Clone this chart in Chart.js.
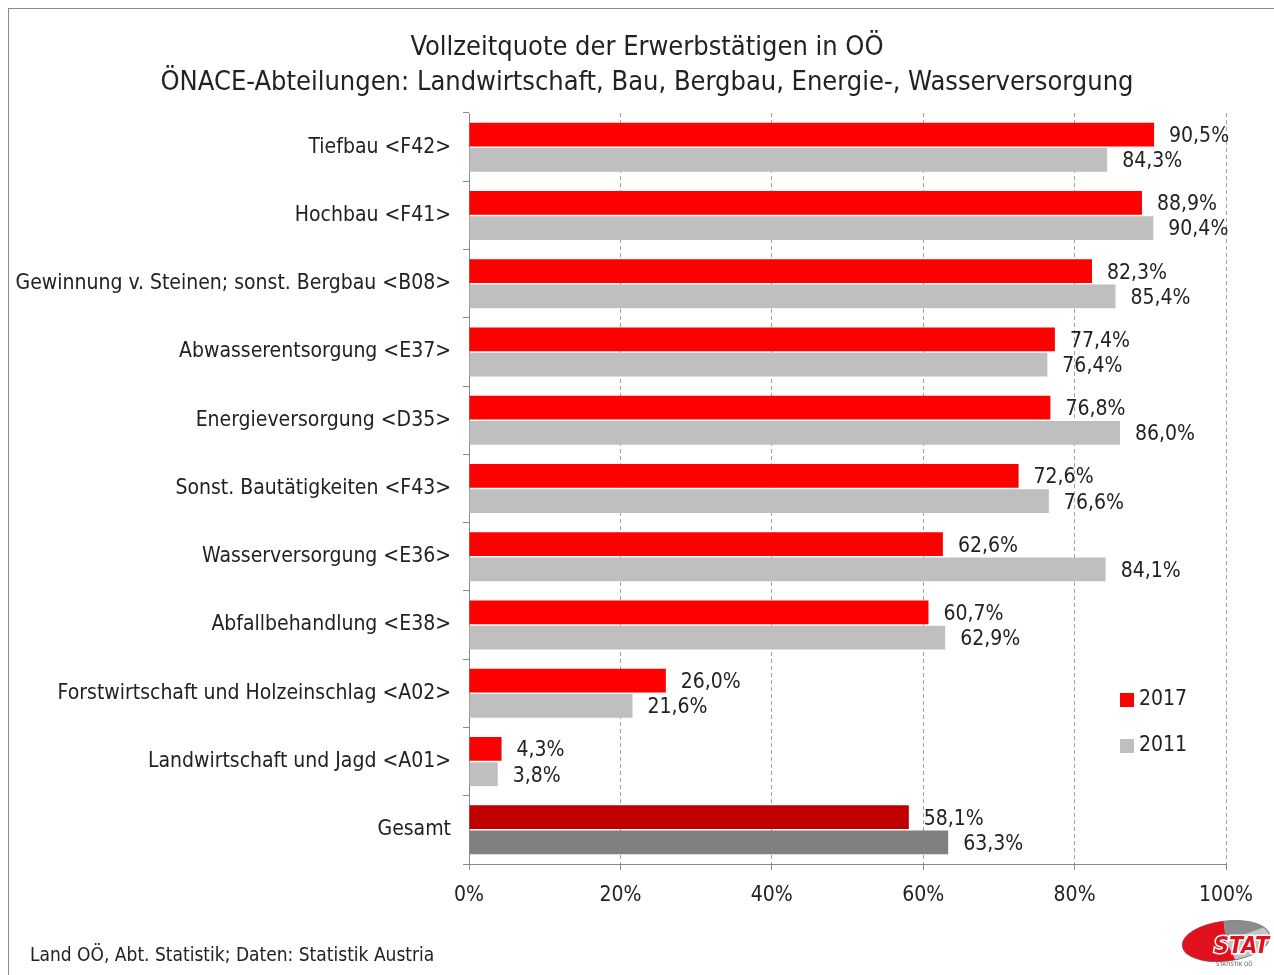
<!DOCTYPE html>
<html>
<head>
<meta charset="utf-8">
<script src="https://cdn.jsdelivr.net/npm/chart.js@4.4.1/dist/chart.umd.min.js"></script>
<style>
  body { margin: 0; background: #fff; overflow: hidden; }
  #wrap { position: relative; width: 1274px; height: 975px; }
  #rahmen { position: absolute; left: 8px; top: 8px; width: 1400px; height: 1200px; border: 1px solid #8a8a8a; }
  .txt { position: absolute; font-family: "Liberation Sans Narrow", "DejaVu Sans Condensed", sans-serif; color: #222; white-space: nowrap; }
  #titel { left: 147px; width: 1000px; top: 28px; text-align: center; font-size: 27px; line-height: 35px; }
  #quelle { left: 30px; top: 943px; font-size: 19px; }
  canvas { position: absolute; left: 0; top: 0; }
</style>
</head>
<body>
<div id="wrap">
  <div id="rahmen"></div>
  <canvas id="quoteChart" width="1274" height="975"></canvas>
  <div id="titel" class="txt">Vollzeitquote der Erwerbstätigen in OÖ<br>ÖNACE-Abteilungen: Landwirtschaft, Bau, Bergbau, Energie-, Wasserversorgung</div>
  <div id="quelle" class="txt">Land OÖ, Abt. Statistik; Daten: Statistik Austria</div>
</div>
<script>
// Daten
const kategorien = [
  "Tiefbau <F42>",
  "Hochbau <F41>",
  "Gewinnung v. Steinen; sonst. Bergbau <B08>",
  "Abwasserentsorgung <E37>",
  "Energieversorgung <D35>",
  "Sonst. Bautätigkeiten <F43>",
  "Wasserversorgung <E36>",
  "Abfallbehandlung <E38>",
  "Forstwirtschaft und Holzeinschlag <A02>",
  "Landwirtschaft und Jagd <A01>",
  "Gesamt"
];
const werte2017 = [90.5, 88.9, 82.3, 77.4, 76.8, 72.6, 62.6, 60.7, 26.0, 4.3, 58.1];
const werte2011 = [84.3, 90.4, 85.4, 76.4, 86.0, 76.6, 84.1, 62.9, 21.6, 3.8, 63.3];
const xTicks = [0, 20, 40, 60, 80, 100];

const schrift = '"Liberation Sans Narrow", "DejaVu Sans Condensed", sans-serif';

// Farben: letzte Kategorie (Gesamt) dunkler
const farben2017 = kategorien.map((k, i) => i === kategorien.length - 1 ? "#c00000" : "#ff0000");
const farben2011 = kategorien.map((k, i) => i === kategorien.length - 1 ? "#808080" : "#bfbfbf");

function formatProzent(v) {
  return v.toFixed(1).replace(".", ",") + "%";
}

// Werte rechts neben den Balken
const wertePlugin = {
  id: "werte",
  afterDatasetsDraw(chart) {
    const ctx = chart.ctx;
    ctx.save();
    ctx.font = "21px " + schrift;
    ctx.fillStyle = "#222";
    ctx.textAlign = "left";
    ctx.textBaseline = "middle";
    chart.data.datasets.forEach((ds, di) => {
      chart.getDatasetMeta(di).data.forEach((bar, i) => {
        ctx.fillText(formatProzent(ds.data[i]), bar.x + 15, bar.y + 2);
      });
    });
    ctx.restore();
  }
};

// Legende im Diagramm + Logo
const legendePlugin = {
  id: "legende",
  afterDraw(chart) {
    const ctx = chart.ctx;
    ctx.save();
    ctx.font = "21px " + schrift;
    ctx.textBaseline = "middle";
    const eintraege = [["2017", "#ff0000", 700], ["2011", "#bfbfbf", 746]];
    eintraege.forEach(e => {
      ctx.fillStyle = e[1];
      ctx.fillRect(1120, e[2] - 7, 14, 14);
      ctx.fillStyle = "#222";
      ctx.fillText(e[0], 1139, e[2]);
    });

    // Logo STAT
    const cx = 1226, cy = 941;
    ctx.save();
    ctx.translate(cx, cy);
    ctx.rotate(-0.12);
    ctx.beginPath();
    ctx.ellipse(0, 0, 44, 20, 0, 0, Math.PI * 2);
    ctx.fillStyle = "#c4c4c4";
    ctx.fill();
    ctx.lineWidth = 1;
    ctx.strokeStyle = "#777";
    ctx.stroke();
    ctx.beginPath();
    ctx.moveTo(0, 0);
    ctx.ellipse(0, 0, 44, 20, 0, Math.PI * 0.45, Math.PI * 1.5);
    ctx.closePath();
    ctx.fillStyle = "#e0101c";
    ctx.fill();
    ctx.beginPath();
    ctx.moveTo(0, 0);
    ctx.ellipse(0, 0, 44, 20, 0, Math.PI * 1.5, Math.PI * 1.85);
    ctx.closePath();
    ctx.fillStyle = "#8c8c8c";
    ctx.fill();
    ctx.restore();
    ctx.font = "italic bold 23px " + schrift;
    ctx.textAlign = "left";
    ctx.textBaseline = "alphabetic";
    ctx.lineWidth = 3;
    ctx.strokeStyle = "#fff";
    ctx.strokeText("STAT", 1214, 953);
    ctx.fillStyle = "#e0101c";
    ctx.fillText("STAT", 1214, 953);
    ctx.font = "6px " + schrift;
    ctx.fillStyle = "#555";
    ctx.fillText("STATISTIK OÖ", 1216, 966);
    ctx.restore();
  }
};

const ctx = document.getElementById("quoteChart").getContext("2d");
new Chart(ctx, {
  type: "bar",
  data: {
    labels: kategorien,
    datasets: [
      { label: "2017", data: werte2017, backgroundColor: farben2017, categoryPercentage: 0.74, barPercentage: 0.94 },
      { label: "2011", data: werte2011, backgroundColor: farben2011, categoryPercentage: 0.74, barPercentage: 0.94 }
    ]
  },
  options: {
    indexAxis: "y",
    responsive: false,
    animation: false,
    layout: { padding: { top: 113, left: 4, right: 48, bottom: 61 } },
    plugins: {
      legend: { display: false },
      tooltip: { enabled: false },
      title: { display: false }
    },
    scales: {
      x: {
        min: 0,
        max: 100,
        afterBuildTicks(scale) {
          scale.ticks = xTicks.map(v => ({ value: v }));
        },
        afterFit(scale) { scale.height = 50; },
        ticks: {
          color: "#222",
          font: { family: schrift, size: 21 },
          padding: 13,
          callback: v => v + "%"
        },
        grid: { color: "#a0a0a0", tickColor: "#8a8a8a", tickLength: 6 },
        border: { color: "#8a8a8a", dash: [4, 3] }
      },
      y: {
        afterFit(scale) { scale.width = 465; },
        ticks: {
          color: "#222",
          font: { family: schrift, size: 21 },
          padding: 12
        },
        grid: { drawOnChartArea: false, tickLength: 6, color: "#8a8a8a" },
        border: { color: "#8a8a8a" }
      }
    }
  },
  plugins: [wertePlugin, legendePlugin]
});
</script>
</body>
</html>
